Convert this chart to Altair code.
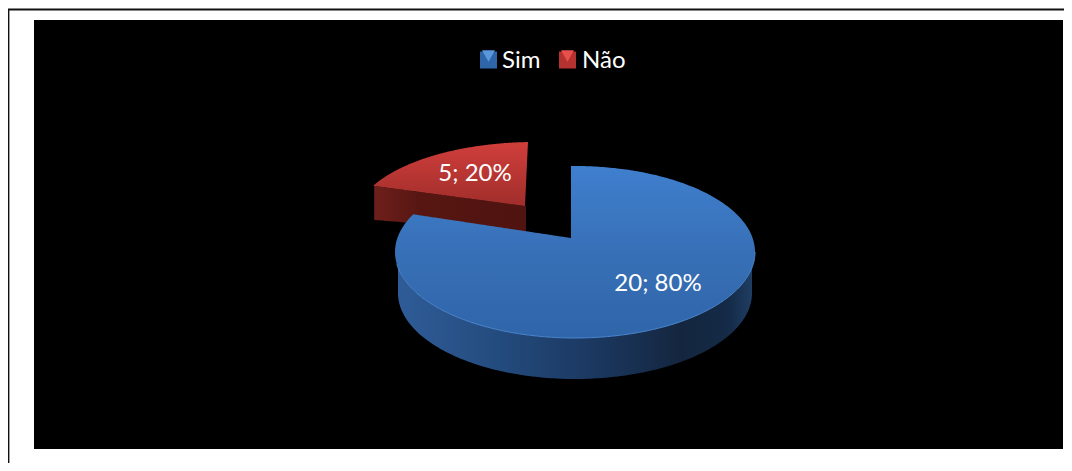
import numpy as np
import pandas as pd
import altair as alt

# ---- data ----
categories = ["Sim", "Não"]
counts = [20, 5]
labels = ["20; 80%", "5; 20%"]
colors = ["#2f66aa", "#b4322f"]
bevels = ["#5b97dc", "#e8504c"]

W, H = 1056, 455
OFF = 8  # page margin: scales are expressed in page pixels


def X(f="x"):
    return alt.X(f"{f}:Q", scale=alt.Scale(domain=[OFF, OFF + W], range=[0, W]), axis=None)


def Y(f="y"):
    return alt.Y(f"{f}:Q", scale=alt.Scale(domain=[OFF, OFF + H], range=[0, H]), axis=None)


total = sum(counts)
# 3D view foreshortens the wedge that lies at the upper left
FORESHORTEN = 0.889
wedge = np.deg2rad(360 * counts[1] / total * FORESHORTEN)

# ellipse of the big slice (top face) and of its base
cx, cy, rx, ry = 575.0, 252.0, 180.0, 86.0
bx, by, brx, bry = 575.0, 293.0, 177.0, 86.0
ax, ay = 573.0, 238.0  # apex of the big slice
# ellipse of the exploded small slice
rcx, rcy, rrx, rry = 535.0, 220.0, 180.0, 78.0
rax, ray = 525.0, 206.0  # apex


def etop(x, c_x=cx, c_y=cy, r_x=rx, r_y=ry):
    return c_y - r_y * np.sqrt(np.clip(1 - ((x - c_x) / r_x) ** 2, 0, 1))


def ebot(x, c_x=cx, c_y=cy, r_x=rx, r_y=ry):
    return c_y + r_y * np.sqrt(np.clip(1 - ((x - c_x) / r_x) ** 2, 0, 1))


# --- big slice top face
edge_x = cx - rx * np.sin(wedge)
edge_y = cy - ry * np.cos(wedge)
xs = np.unique(np.concatenate([
    cx - rx * np.cos(np.linspace(0, np.pi, 241)),
    [edge_x, ax - 2.0, ax - 1.99],
]))
top = []
for x in xs:
    if x < edge_x:
        top.append(etop(x))
    elif x <= ax - 2.0:
        top.append(edge_y + (ay - edge_y) * (x - edge_x) / (ax - 2.0 - edge_x))
    else:
        top.append(etop(x))
blue_top = pd.DataFrame({"x": xs, "y": top, "y2": ebot(xs)})

# --- big slice side wall
wx = bx - brx * np.cos(np.linspace(0, np.pi, 181))
blue_wall = pd.DataFrame({"x": wx, "y": ebot(wx), "y2": ebot(wx, bx, by, brx, bry)})

# --- small slice
redge_x = rcx - rrx * np.sin(wedge)
redge_y = rcy - rry * np.cos(wedge)
rtip = 528.0
rxs = np.unique(np.concatenate([np.linspace(redge_x, rtip, 120), [rax]]))
rlow = np.where(
    rxs <= rax,
    redge_y + (ray - redge_y) * (rxs - redge_x) / (rax - redge_x),
    ray + (etop(rtip, rcx, rcy, rrx, rry) - ray) * (rxs - rax) / (rtip - rax),
)
red_top = pd.DataFrame({"x": rxs, "y": etop(rxs, rcx, rcy, rrx, rry), "y2": rlow})

wxs = np.linspace(redge_x + 1, rax + 1, 40)
wlow = redge_y + (ray - redge_y) * (wxs - redge_x) / (rax - redge_x)
red_wall = pd.DataFrame({"x": wxs, "y": wlow, "y2": wlow + 34 - 8 * (wxs - wxs[0]) / (wxs[-1] - wxs[0])})

# rim highlight on the big slice
rim_x = xs[xs >= cx - rx * 0.99]
rim = pd.DataFrame({"x": rim_x, "y": ebot(rim_x)})


def grad(stops, horizontal=False):
    return alt.Gradient(
        gradient="linear",
        stops=[alt.GradientStop(offset=o, color=c) for o, c in stops],
        x1=0, y1=0, x2=1 if horizontal else 0, y2=0 if horizontal else 1,
    )


def area(df, fill):
    return alt.Chart(df).mark_area(color=fill, line=False, interpolate="linear").encode(
        x=X(), y=Y(), y2=alt.Y2("y2:Q")
    )


top_line = pd.DataFrame({"x": [8.0], "x2": [1064.0], "y": [9.5]})
left_line = pd.DataFrame({"x": [8.6], "y": [9.0], "y2": [463.0]})
plot = pd.DataFrame({"x": [34], "x2": [1063], "y": [20], "y2": [449]})

top_l = alt.Chart(top_line).mark_rule(color="#111111", strokeWidth=2).encode(x=X(), x2="x2:Q", y=Y())
left_l = alt.Chart(left_line).mark_rule(color="#111111", strokeWidth=1.6).encode(x=X(), y=Y(), y2="y2:Q")
plot_l = alt.Chart(plot).mark_rect(fill="black").encode(x=X(), x2="x2:Q", y=Y(), y2="y2:Q")

red_wall_l = area(red_wall, grad([(0, "#6e1f1b"), (0.3, "#571612"), (1, "#4f1310")], True))
red_top_l = area(red_top, grad([(0, "#d03e3b"), (1, "#a02e2b")]))
blue_wall_l = area(blue_wall, grad([(0, "#2f5c98"), (0.3, "#234a7c"), (0.55, "#1b3860"),
                                    (0.8, "#14263f"), (0.93, "#142a46"), (1, "#1f3d63")], True))
blue_top_l = area(blue_top, grad([(0, "#3f7fce"), (0.5, "#3870b7"), (1, "#2f65a9")]))
rim_l = alt.Chart(rim).mark_line(color="#4c88d2", strokeWidth=1).encode(x=X(), y=Y())

label_df = pd.DataFrame({"x": [658, 475], "y": [284, 174], "t": labels})
text_l = alt.Chart(label_df).mark_text(
    font="Lato", fontSize=24, color="white", align="center", baseline="middle"
).encode(x=X(), y=Y(), text="t:N")

# legend keys are drawn as marks (so the bevel can sit on them); the legend supplies the labels
legend_df = pd.DataFrame({"x": [488.5, 567.5], "y": [60, 60], "c": categories})
legend_l = alt.Chart(legend_df).mark_square(size=289, opacity=1).encode(
    x=X(), y=Y(),
    color=alt.Color(
        "c:N",
        scale=alt.Scale(domain=categories, range=colors),
        sort=categories,
        legend=alt.Legend(
            title=None, orient="none", direction="horizontal", columns=2,
            legendX=468, legendY=41, padding=0,
            symbolType="square", symbolSize=289, symbolOpacity=0, symbolStrokeWidth=0,
            labelColor="white", labelFont="Lato", labelFontSize=24, labelOffset=2,
            columnPadding=15,
        ),
    ),
)

bevel_df = pd.DataFrame({"x": [488.5, 567.5], "y": [56.0, 56.0], "c": bevels})
bevel_l = alt.Chart(bevel_df).mark_point(shape="triangle-down", filled=True, size=170, opacity=1).encode(
    x=X(), y=Y(), fill=alt.Fill("c:N", scale=None), stroke=alt.value(None)
)

chart = alt.layer(
    top_l, left_l, plot_l, red_wall_l, red_top_l, blue_wall_l, blue_top_l, rim_l, text_l, legend_l, bevel_l
).properties(
    width=W, height=H, padding=0, background="white",
    autosize=alt.AutoSizeParams(type="none"),
).configure_view(stroke=None)

chart.save("out.html", embed_options={"renderer": "svg", "actions": False})
